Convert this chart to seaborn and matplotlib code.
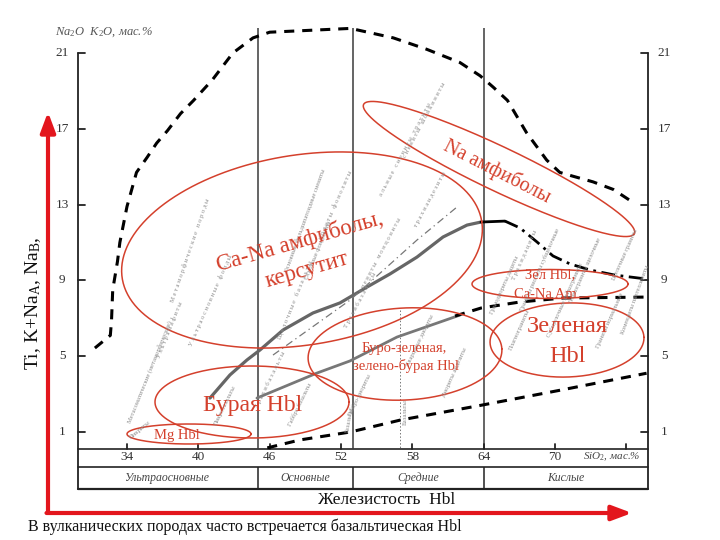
import numpy as np
import pandas as pd
import matplotlib
matplotlib.use("Agg")
import matplotlib.pyplot as plt
import seaborn as sns
from matplotlib.patches import FancyArrowPatch

sns.set_theme(style="white")
plt.rcParams['font.family'] = ['Liberation Serif', 'DejaVu Serif']
plt.rcParams['mathtext.fontset'] = 'custom'
plt.rcParams['mathtext.rm'] = 'Liberation Serif'
plt.rcParams['mathtext.it'] = 'Liberation Serif:italic'

# ---------------- data ----------------
y_ticks = [1, 5, 9, 13, 17, 21]
x_ticks = [34, 40, 46, 52, 58, 64, 70]
x_tick_marks = [34, 40, 46, 52, 58, 64, 70, 76]
rock_groups = ["Ультраосновные", "Основные", "Средние", "Кислые"]
group_bounds = [45, 53, 64]

outer_x = [31.3, 32.6, 32.7, 32.8, 33.2, 33.4, 34.0, 34.8, 35.7, 36.5, 37.4, 38.5, 39.6,
           41.2, 42.9, 44.6, 46.0, 52.8, 56.4, 59.2, 62.0, 63.7, 64.8, 66.0, 67.6, 69.3,
           70.4, 71.5, 73.2, 74.9, 76.6]
outer_y = [5.43, 6.1, 6.9, 8.5, 10.0, 11.0, 12.9, 14.7, 15.5, 16.25, 16.9, 17.8, 18.5,
           19.6, 21.0, 21.8, 22.1, 22.3, 21.8, 21.2, 20.5, 19.8, 19.2, 18.5, 16.8, 15.35,
           14.7, 14.5, 14.2, 13.8, 13.1]

lower_x = [45.8, 48.55, 52.8, 57.0, 63.7, 70.4, 77.7]
lower_y = [0.16, 0.58, 1.0, 1.63, 2.4, 3.2, 4.1]

gray_up_x = [40.98, 42.66, 44.09, 45.19, 47.12, 49.64, 51.91, 54.19, 56.12, 58.39, 60.58, 62.6, 63.77]
gray_up_y = [2.79, 4.01, 4.80, 5.33, 6.38, 7.28, 7.81, 8.65, 9.34, 10.23, 11.29, 11.92, 12.08]

black_top_x = [63.77, 65.79]
black_top_y = [12.08, 12.13]

desc_x = [65.79, 67.05, 68.48, 69.83, 71.26, 72.94, 75.04, 77.73]
desc_y = [12.13, 11.77, 11.03, 10.29, 9.87, 9.55, 9.28, 9.07]

gray_low_x = [44.93, 49.98, 52.76, 56.71, 62.01]
gray_low_y = [2.79, 4.11, 4.75, 6.01, 7.17]

mid_x = [61.59, 63.77, 67.05, 70.67, 77.73]
mid_y = [7.12, 7.54, 7.86, 8.07, 8.12]

thin_x = [46.28, 52.76, 58.39, 61.75]
thin_y = [5.06, 7.96, 11.13, 12.87]

# ---------------- layout ----------------
W, H = 720, 540
XLIM = (29.88, 77.82)
YLIM = (-2.01, 22.48)
fig = plt.figure(figsize=(7.2, 5.4), dpi=100)
ax = fig.add_axes([78 / W, 51 / H, 570 / W, 464 / H])
ax.set_xlim(*XLIM)
ax.set_ylim(*YLIM)
ax.axis('off')
sx = 570 / (XLIM[1] - XLIM[0])
sy = 464 / (YLIM[1] - YLIM[0])


def p2d(px, py):
    return XLIM[0] + (px - 78) / sx, YLIM[1] - (py - 25) / sy


def fpos(px, py):
    return px / W, 1 - py / H


TOP = p2d(0, 28)[1]
BAND1 = p2d(0, 449)[1]
BAND2 = p2d(0, 467)[1]
BOT = YLIM[0]
ink = '#222222'

# frame
ax.plot([XLIM[0], XLIM[0]], [BOT, 21], color=ink, lw=1.3, clip_on=False)
ax.plot([XLIM[1], XLIM[1]], [BOT, 21], color=ink, lw=1.3, clip_on=False)
ax.plot(XLIM, [BOT, BOT], color=ink, lw=1.6, clip_on=False)
ax.plot(XLIM, [BAND1, BAND1], color=ink, lw=1.2, clip_on=False)
ax.plot(XLIM, [BAND2, BAND2], color=ink, lw=1.2, clip_on=False)
ax.vlines(group_bounds, BAND1, TOP, color='#3a3a3a', lw=1.1)
ax.vlines(group_bounds, BOT, BAND2, color=ink, lw=1.1)
tl = 7 / sx
for t in y_ticks:
    ax.plot([XLIM[0], XLIM[0] + tl], [t, t], color=ink, lw=1.3, clip_on=False)
    ax.plot([XLIM[1] - tl, XLIM[1]], [t, t], color=ink, lw=1.3, clip_on=False)
    ax.text(XLIM[0] - 16 / sx, t, str(t), ha='center', va='center', fontsize=9.5, color='#333333')
    ax.text(XLIM[1] + 16 / sx, t, str(t), ha='center', va='center', fontsize=9.5, color='#333333')
for t in x_tick_marks:
    ax.plot([t, t], [BAND1, BAND1 + 5 / sy], color=ink, lw=1.3)
for t in x_ticks:
    ax.text(t, p2d(0, 457)[1], str(t), ha='center', va='center', fontsize=9.5, color='#333333')
ax.text(p2d(612, 0)[0], p2d(0, 457)[1], r"SiO$_2$, мас.%", ha='center', va='center',
        fontsize=8, style='italic', color='#444444')
gb = [XLIM[0]] + group_bounds + [XLIM[1]]
for i, name in enumerate(rock_groups):
    ax.text((gb[i] + gb[i + 1]) / 2, p2d(0, 478)[1], name, ha='center', va='center',
            fontsize=8.5, style='italic', color='#444444')

# faint rotated rock-name texture
faint = [
    (190, 250, "М е т а м о р ф и ч е с к и е   п о р о д ы", 71),
    (150, 372, "Метасоматические (метаморфические)", 68),
    (210, 300, "У л ь т р а о с н о в н ы е   ф о н д ы", 66),
    (170, 330, "У л ь т р а м а ф и т ы", 68),
    (305, 220, "Основные, фельдшпатоидные сиениты", 70),
    (295, 300, "Щ е л о ч н ы е   б а з а л ь т ы", 68),
    (335, 205, "и о л и т ы   ф о н о л и т ы", 66),
    (318, 250, "Основные фоидолиты", 68),
    (405, 150, "а л ь н ы е   с и е н и т ы   т р а х и т ы", 62),
    (425, 120, "с и е н и т ы   ш о н к и н и т ы", 62),
    (380, 255, "с и е н и т ы   м о н ц о н и т ы", 62),
    (430, 200, "т р а х и а н д е з и т ы", 62),
    (360, 300, "Т р а х и б а з а л ь т ы", 62),
    (505, 285, "Гранодиориты дациты", 66),
    (525, 255, "Т р а х и д а ц и т ы", 66),
    (540, 270, "Граниты риолиты субщелочные", 66),
    (565, 300, "Субщелочные лейкограниты", 66),
    (585, 270, "Лейкограниты щелочные", 66),
    (625, 255, "Щелочные граниты", 66),
    (610, 320, "Граниты нормальные", 66),
    (635, 300, "Комендиты пантеллериты", 70),
    (520, 330, "Плагиограниты", 66),
    (455, 372, "Диориты андезиты", 66),
    (420, 340, "Кварцевые диориты", 64),
    (360, 395, "Габбро-диориты", 64),
    (300, 405, "Габбро базальты", 64),
    (270, 380, "Т р а х и б а з а л ь т ы", 64),
    (225, 405, "Пикробазальты", 64),
    (140, 430, "Пикриты", 40),
    (405, 412, "Базальты", 90),
    (350, 420, "Базальты", 80),
]
for px, py, s, r in faint:
    x, y = p2d(px, py)
    ax.text(x, y, s, rotation=r, ha='center', va='center', fontsize=4.8,
            color='#8e8e8e', rotation_mode='anchor')

ax.plot([p2d(400, 0)[0]] * 2, [p2d(0, 310)[1], BAND1], color='#777777', lw=0.7, ls=(0, (1.5, 2)))

# curves
df = pd.DataFrame({'x': outer_x, 'y': outer_y})
sns.lineplot(data=df, x='x', y='y', ax=ax, color='black', lw=2.2, linestyle=(0, (3.3, 2.6)),
             sort=False, estimator=None)
sns.lineplot(x=lower_x, y=lower_y, ax=ax, color='black', lw=2.2, linestyle=(0, (3.3, 2.6)),
             sort=False, estimator=None)
sns.lineplot(x=gray_up_x, y=gray_up_y, ax=ax, color='#666666', lw=2.3, sort=False, estimator=None)
sns.lineplot(x=black_top_x, y=black_top_y, ax=ax, color='black', lw=2.0, sort=False, estimator=None)
sns.lineplot(x=desc_x, y=desc_y, ax=ax, color='black', lw=2.0, linestyle=(0, (5, 2, 1, 2)),
             sort=False, estimator=None)
sns.lineplot(x=gray_low_x, y=gray_low_y, ax=ax, color='#777777', lw=2.0, sort=False, estimator=None)
sns.lineplot(x=mid_x, y=mid_y, ax=ax, color='black', lw=2.2, linestyle=(0, (3.3, 2.6)),
             sort=False, estimator=None)
sns.lineplot(x=thin_x, y=thin_y, ax=ax, color='#777777', lw=0.9, linestyle=(0, (6, 3, 1, 3)),
             sort=False, estimator=None)

# red field ellipses: centre (px), semi-axes (px), angle
red = '#d4402c'
field_ellipses = [
    (302, 250, 182, 95, 9),
    (499, 169, 150, 22, -25.5),
    (550, 284, 78, 14.5, 0),
    (567, 340, 77, 37, 2),
    (405, 354, 97, 46, 3),
    (252, 402, 97, 36, 0),
    (189, 434, 62, 10, 0),
]
t = np.linspace(0, 2 * np.pi, 300)
for cpx, cpy, a, b, ang in field_ellipses:
    cx, cy = p2d(cpx, cpy)
    th = np.deg2rad(ang)
    dx = a * np.cos(t) * np.cos(th) - b * np.sin(t) * np.sin(th)
    dy = a * np.cos(t) * np.sin(th) + b * np.sin(t) * np.cos(th)
    ax.plot(cx + dx / sx, cy + dy / sy, color=red, lw=1.1)

field_labels = [
    (300, 242, "Ca-Na амфиболы,", 16.5, 16),
    (307, 270, "керсутит", 16.5, 16),
    (497, 172, "Na амфиболы", 14.5, -27),
    (253, 405, "Бурая Hbl", 17, 0),
    (177, 436, "Mg Hbl", 10.5, 0),
    (404, 348, "Буро-зеленая,", 10.5, 0),
    (406, 366, "зелено-бурая Hbl", 10.5, 0),
    (550, 275, "Зел Hbl,", 10.5, 0),
    (545, 294, "Ca-Na Am", 10.5, 0),
    (567, 327, "Зеленая", 17.5, 0),
    (567, 356, "Hbl", 17.5, 0),
]
for px, py, s, fs, r in field_labels:
    x, y = p2d(px, py)
    ax.text(x, y, s, ha='center', va='center', fontsize=fs, color=red, rotation=r,
            rotation_mode='anchor')

# figure-level texts and arrows
arrow_red = '#e3161d'
fig.add_artist(FancyArrowPatch(fpos(48, 513), fpos(48, 112), transform=fig.transFigure,
                               arrowstyle='-|>,head_length=12,head_width=4.5', lw=3,
                               color=arrow_red, shrinkA=0, shrinkB=0, mutation_scale=1))
fig.add_artist(FancyArrowPatch(fpos(46.5, 513), fpos(632, 513), transform=fig.transFigure,
                               arrowstyle='-|>,head_length=12,head_width=4.5', lw=3,
                               color=arrow_red, shrinkA=0, shrinkB=0, mutation_scale=1))

fig.text(*fpos(33, 303), r"Ti, K+Na$_\mathregular{A}$, Na$_\mathregular{B}$,", rotation=90,
         ha='center', va='center', fontsize=14, color='#111111')
fig.text(*fpos(387, 500), "Железистость  Hbl", ha='center', va='center', fontsize=12.5,
         color='#111111')
fig.text(*fpos(28, 527), "В вулканических породах часто встречается базальтическая Hbl",
         ha='left', va='center', fontsize=11.5, color='#111111')
fig.text(*fpos(55, 32), r"Na$_2$O  K$_2$O, мас.%", ha='left', va='center', fontsize=9,
         style='italic', color='#555555')

fig.savefig("out.png", dpi=100)
